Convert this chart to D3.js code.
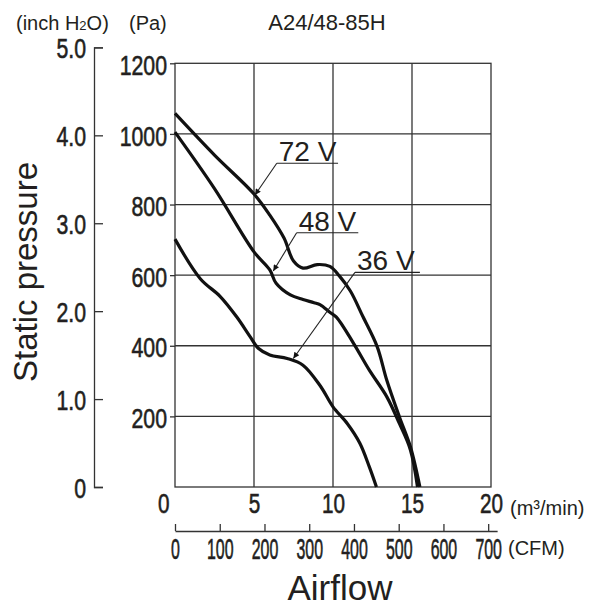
<!DOCTYPE html>
<html>
<head>
<meta charset="utf-8">
<script src="https://cdn.jsdelivr.net/npm/d3@7"></script>
<style>
  body { margin: 0; background: #fff; }
  svg { display: block; }
  .lab { font-family: "Liberation Sans", Arial, sans-serif; }
</style>
</head>
<body>
<script>
// airflow (m3/min) vs static pressure (Pa)
var flow72 = [0, 2.5, 5.0, 6.0, 6.9, 7.5, 8.1, 9.0, 9.8, 10.4, 11.1, 11.9, 12.8, 13.4, 14.2, 14.9, 15.5];
var pres72 = [1058, 940, 830, 770, 705, 640, 620, 630, 625, 598, 555, 482, 397, 303, 199, 114, 0];

var flow48 = [0, 2.5, 5.0, 6.0, 6.4, 7.3, 8.1, 8.8, 9.2, 9.8, 10.2, 11.3, 12.3, 13.4, 14.2, 14.9, 15.35];
var pres48 = [1005, 845, 666, 615, 577, 544, 531, 522, 516, 495, 482, 407, 331, 256, 180, 105, 0];

var flow36 = [0, 1.6, 2.85, 3.9, 4.75, 5.27, 6.0, 7.1, 8.1, 9.2, 10.0, 10.9, 11.7, 12.3, 12.75];
var pres36 = [702, 590, 540, 482, 426, 393, 374, 364, 345, 286, 227, 180, 124, 57, 0];

var voltLabels = ["72 V", "48 V", "36 V"];
// underline start (flow, Pa), underline end flow, arrow tip (flow, Pa)
var labelFlow = [6.44, 7.70, 11.39];
var labelPres = [917, 720, 608];
var labelEnd = [10.32, 11.6, 15.5];
var tipFlow = [5.06, 6.22, 7.49];
var tipPres = [827, 612, 364];

var flowTicks = [0, 5, 10, 15, 20];
var paTicks = [200, 400, 600, 800, 1000, 1200];
var inchTicks = [0, 1, 2, 3, 4, 5];
var cfmTicks = [0, 100, 200, 300, 400, 500, 600, 700];

var PA_PER_INCH = 249;
var M3MIN_PER_CFM = 0.0283168;

var W = 609, H = 608;
var svg = d3.select("body").append("svg").attr("width", W).attr("height", H);

var x = d3.scaleLinear().domain([0, 20]).range([175, 491]);
var y = d3.scaleLinear().domain([0, 1200]).range([487, 63.3]);
var yIn = d3.scaleLinear().domain([0, 5]).range([y(0), y(5 * PA_PER_INCH)]);
var xCfm = d3.scaleLinear().domain([0, 720]).range([x(0), x(720 * M3MIN_PER_CFM)]);

var ink = "#231f20";
var gridCol = "#333";

// grid
var grid = svg.append("g").attr("stroke", gridCol).attr("stroke-width", 1.3);
grid.selectAll("line.v").data([5, 10, 15]).enter().append("line")
  .attr("x1", d => x(d)).attr("x2", d => x(d))
  .attr("y1", y(0)).attr("y2", y(1200));
grid.selectAll("line.h").data([200, 400, 600, 800, 1000]).enter().append("line")
  .attr("y1", d => y(d)).attr("y2", d => y(d))
  .attr("x1", x(0)).attr("x2", x(20));
grid.append("rect")
  .attr("x", x(0)).attr("y", y(1200))
  .attr("width", x(20) - x(0)).attr("height", y(0) - y(1200))
  .attr("fill", "none");

// Pa axis
var gPa = svg.append("g").attr("transform", "translate(" + x(0) + ",0)")
  .call(d3.axisLeft(y).tickValues(paTicks).tickSize(5).tickPadding(3).tickFormat(d3.format("d")));
gPa.select(".domain").remove();

// inch H2O axis
var gIn = svg.append("g").attr("transform", "translate(94,0)")
  .call(d3.axisLeft(yIn).tickValues(inchTicks).tickSize(-9).tickPadding(8)
    .tickFormat(d => d === 0 ? "0" : d3.format(".1f")(d)));

// m3/min axis
var gX = svg.append("g").attr("transform", "translate(0," + y(0) + ")")
  .call(d3.axisBottom(x).tickValues(flowTicks).tickSize(0).tickPadding(6));
gX.select(".domain").remove();

// CFM axis
var gC = svg.append("g").attr("transform", "translate(0,531)")
  .call(d3.axisBottom(xCfm).tickValues(cfmTicks).tickSizeInner(-7).tickSizeOuter(0).tickPadding(7));

// condensed look: squeeze glyphs horizontally around each label's own anchor
function squeeze(g, sx, size) {
  g.attr("font-family", null).attr("font-size", null).attr("class", "lab");
  g.selectAll("text").attr("fill", ink).style("font-size", size + "px")
    .attr("stroke", ink).attr("stroke-width", 0.6)
    .attr("x", function () { return (+this.getAttribute("x") || 0) / sx; })
    .attr("transform", "scale(" + sx + ",1)");
  g.selectAll("line").attr("stroke", gridCol).attr("stroke-width", 1.3);
  g.selectAll(".domain").attr("stroke", gridCol).attr("stroke-width", 1.3);
}
squeeze(gPa, 0.76, 28);
squeeze(gIn, 0.76, 28);
squeeze(gX, 0.74, 28);
squeeze(gC, 0.55, 29);
gPa.selectAll("text").attr("dy", "0.4em");
gIn.selectAll("text").attr("dy", "0.36em");
gX.selectAll(".tick text").filter(d => d === 0).attr("dx", -16);

// curves
var line = d3.line().x(d => x(d[0])).y(d => y(d[1])).curve(d3.curveCatmullRom.alpha(0.5));
var series = [[flow72, pres72], [flow48, pres48], [flow36, pres36]];
svg.append("g").selectAll("path").data(series).enter().append("path")
  .attr("d", s => line(d3.zip(s[0], s[1])))
  .attr("fill", "none").attr("stroke", "#111").attr("stroke-width", 3.2)
  .attr("stroke-linejoin", "round");

// voltage labels with leaders
svg.append("defs").append("marker")
  .attr("id", "arr").attr("viewBox", "0 0 10 10").attr("refX", 10).attr("refY", 5)
  .attr("markerWidth", 9).attr("markerHeight", 6).attr("markerUnits", "userSpaceOnUse")
  .attr("orient", "auto")
  .append("path").attr("d", "M0,0L10,5L0,10z").attr("fill", "#111");

var ann = svg.append("g");
voltLabels.forEach(function (t, i) {
  var x0 = x(labelFlow[i]), y0 = y(labelPres[i]);
  ann.append("line").attr("x1", x0).attr("y1", y0).attr("x2", x(labelEnd[i])).attr("y2", y0)
    .attr("stroke", "#222").attr("stroke-width", 1.1);
  ann.append("line").attr("x1", x0).attr("y1", y0).attr("x2", x(tipFlow[i])).attr("y2", y(tipPres[i]))
    .attr("stroke", "#222").attr("stroke-width", 1.1).attr("marker-end", "url(#arr)");
  ann.append("text").attr("class", "lab").attr("x", x0 + 2).attr("y", y0 - 2)
    .attr("fill", ink).style("font-size", "28px").text(t);
});

// titles and units
function label(txt, px, py, size, anchor) {
  return svg.append("text").attr("class", "lab").attr("x", px).attr("y", py)
    .attr("fill", ink).style("font-size", size + "px")
    .attr("text-anchor", anchor || "start").text(txt);
}
label("A24/48-85H", 327, 30, 22, "middle");
var inch = label("(inch H", 16, 30, 20);
inch.append("tspan").style("font-size", "13px").text("2");
inch.append("tspan").text("O)");
label("(Pa)", 129, 30, 20);
label("(m\u00b3/min)", 510, 515, 20);
label("(CFM)", 508, 555, 20);
label("Airflow", 340, 600, 35, "middle");
label("Static pressure", 0, 0, 33, "middle")
  .attr("transform", "translate(37,272) rotate(-90)");
</script>
</body>
</html>
